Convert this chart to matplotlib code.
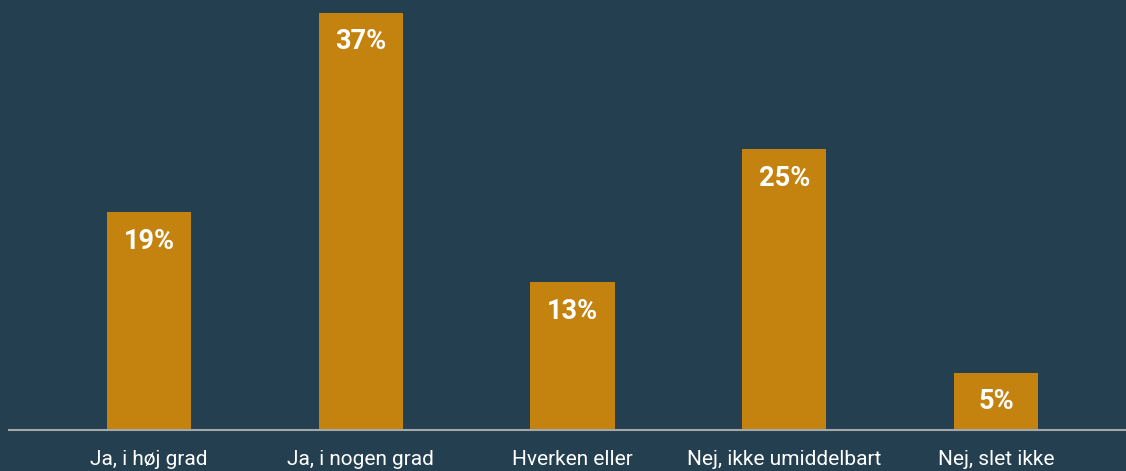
import matplotlib
matplotlib.use("Agg")
import matplotlib.pyplot as plt

categories = ["Ja, i høj grad", "Ja, i nogen grad", "Hverken eller", "Nej, ikke umiddelbart", "Nej, slet ikke"]
values = [19.3, 37.0, 13.1, 24.9, 5.1]
labels = ["19%", "37%", "13%", "25%", "5%"]

bg = "#243f4f"
bar_color = "#c4820f"

fig = plt.figure(figsize=(11.26, 4.71), dpi=100, facecolor=bg)
ax = fig.add_axes([9/1126, 41/471, 1117/1126, 430/471])
ax.set_facecolor(bg)

x = list(range(len(categories)))
ax.bar(x, values, width=0.397, color=bar_color, zorder=2)
ax.set_xlim(-0.661, 4.614)
ax.set_ylim(0, 38.15)

for xi, v, lab in zip(x, values, labels):
    ax.annotate(lab, (xi, v), xytext=(0, -29), textcoords="offset pixels",
                ha="center", va="center", color="white", fontsize=19.5, fontweight="bold",
                family="Roboto")

for s in ["top", "right", "left"]:
    ax.spines[s].set_visible(False)
ax.spines["bottom"].set_color("#a3a9ab")
ax.spines["bottom"].set_linewidth(1.5)
ax.spines["bottom"].set_zorder(3)
ax.set_yticks([])
ax.set_xticks(x)
ax.set_xticklabels(categories, color="white", fontsize=15, family="Roboto")
ax.tick_params(axis="x", length=0, pad=14.5)

fig.savefig("out.png", dpi=100, facecolor=bg)
